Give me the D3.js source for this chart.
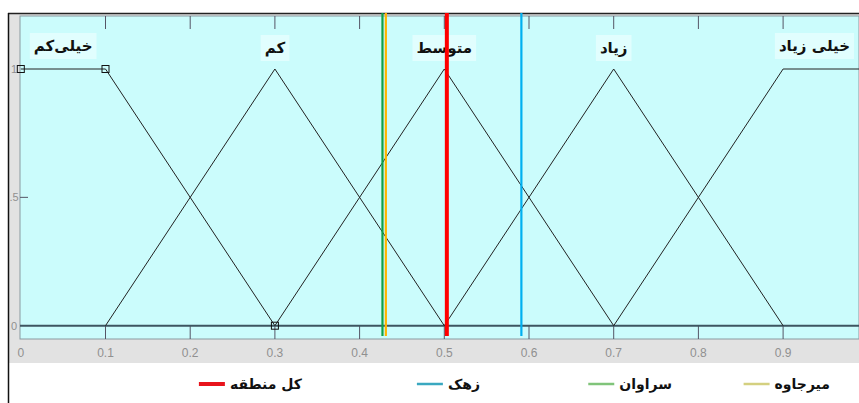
<!DOCTYPE html>
<html>
<head>
<meta charset="utf-8">
<script src="https://cdn.jsdelivr.net/npm/d3@7"></script>
<style>
  body { margin: 0; background: #fff; }
  svg { display: block; }
</style>
</head>
<body>
<div id="plot"></div>
<script>
// Parameters
const svg_w = 859;
const svg_h = 403;
const plot = {left: 20, top: 16, bottom: 339};

// membership functions (trimf / trapmf params)
const mfNames = ["خیلی‌کم", "کم", "متوسط", "زیاد", "خیلی زیاد"];
const mfParams = [
  [0, 0, 0.1, 0.3],
  [0.1, 0.3, 0.5],
  [0.3, 0.5, 0.7],
  [0.5, 0.7, 0.9],
  [0.7, 0.9, 1, 1]
];
const mfLabelX = [0.05, 0.3, 0.5, 0.7, 0.937];

// selected mf markers
const markerX = [0, 0.1, 0.3];
const markerY = [1, 1, 0];

// regions
const regions = ["کل منطقه", "زهک", "سراوان", "میرجاوه"];
const regionValues = [0.503, 0.591, 0.427, 0.431];
const lineColors = ["#ff0000", "#00b0f0", "#0fa04a", "#ffb400"];
const legendColors = ["#e8141c", "#3aa8c0", "#80c47a", "#d4d080"];

const xTicks = [0, 0.1, 0.2, 0.3, 0.4, 0.5, 0.6, 0.7, 0.8, 0.9];
const yTicks = [0, 0.5, 1];

const xScale = d3.scaleLinear().domain([0, 1]).range([20.8, 867.8]);
const yScale = d3.scaleLinear().domain([0, 1]).range([325.7, 69]);

const svg = d3.select("div#plot")
  .append("svg")
    .attr("width", svg_w)
    .attr("height", svg_h);

// grey frame
svg.append("rect")
    .attr("x", 8).attr("y", 13)
    .attr("width", svg_w - 8).attr("height", 350)
    .attr("fill", "#e2e2e2");

// cyan plot area
svg.append("rect")
    .attr("x", plot.left).attr("y", plot.top)
    .attr("width", svg_w - plot.left).attr("height", plot.bottom - plot.top)
    .attr("fill", "#cbfcfc")
    .attr("stroke", "#8a9aa0")
    .attr("stroke-width", 1);

// outer border lines
svg.append("line")
    .attr("x1", 8).attr("x2", svg_w).attr("y1", 13.5).attr("y2", 13.5)
    .attr("stroke", "#222").attr("stroke-width", 1.5);
svg.append("line")
    .attr("x1", 8.5).attr("x2", 8.5).attr("y1", 13).attr("y2", svg_h)
    .attr("stroke", "#111").attr("stroke-width", 1.5);

// tick marks (top and bottom)
const ticks = svg.append("g").attr("class", "ticks");
ticks.selectAll("line.bot")
  .data(xTicks.slice(1))
  .enter().append("line")
    .attr("class", "bot")
    .attr("x1", d => xScale(d)).attr("x2", d => xScale(d))
    .attr("y1", yScale(0)).attr("y2", plot.bottom)
    .attr("stroke", "#556").attr("stroke-width", 1);
ticks.selectAll("line.top")
  .data(xTicks.slice(1))
  .enter().append("line")
    .attr("class", "top")
    .attr("x1", d => xScale(d)).attr("x2", d => xScale(d))
    .attr("y1", plot.top).attr("y2", plot.top + 13)
    .attr("stroke", "#556").attr("stroke-width", 1);
ticks.append("line")
    .attr("x1", plot.left).attr("x2", plot.left + 8)
    .attr("y1", yScale(0.5)).attr("y2", yScale(0.5))
    .attr("stroke", "#556");

// x tick labels
svg.append("g").selectAll("text")
  .data(xTicks)
  .enter().append("text")
    .attr("x", d => xScale(d))
    .attr("y", 357)
    .attr("text-anchor", "middle")
    .style("font-family", "Liberation Sans, Arial, sans-serif")
    .style("font-size", "12px")
    .attr("fill", "#909090")
    .text(d => d === 0 ? "0" : d3.format(".1f")(d));

// y tick labels
svg.append("g").selectAll("text")
  .data(yTicks)
  .enter().append("text")
    .attr("x", 14)
    .attr("y", d => yScale(d) + 4)
    .attr("text-anchor", "middle")
    .style("font-family", "Liberation Sans, Arial, sans-serif")
    .style("font-size", "11px")
    .attr("fill", "#909090")
    .text(d => d === 0.5 ? ".5" : d);

// baseline
svg.append("line")
    .attr("x1", plot.left).attr("x2", svg_w)
    .attr("y1", yScale(0)).attr("y2", yScale(0))
    .attr("stroke", "#3d5560").attr("stroke-width", 2);

// membership function curves
function mfPoints(p) {
  if (p.length === 3) return [[p[0], 0], [p[1], 1], [p[2], 0]];
  return [[p[0], p[0] === p[1] ? 1 : 0], [p[1], 1], [p[2], 1], [p[3], p[2] === p[3] ? 1 : 0]];
}
const line = d3.line().x(d => xScale(d[0])).y(d => yScale(d[1]));
svg.append("g").selectAll("path")
  .data(mfParams)
  .enter().append("path")
    .attr("d", p => line(mfPoints(p)))
    .attr("fill", "none")
    .attr("stroke", "#222")
    .attr("stroke-width", 1);

// markers on selected mf
svg.append("g").selectAll("rect")
  .data(markerX)
  .enter().append("rect")
    .attr("x", (d, i) => xScale(d) - 3.5)
    .attr("y", (d, i) => yScale(markerY[i]) - 3.5)
    .attr("width", 7).attr("height", 7)
    .attr("fill", "none")
    .attr("stroke", "#111").attr("stroke-width", 1);

// mf labels
const labels = svg.append("g").selectAll("g")
  .data(mfNames)
  .enter().append("g");
const labelText = labels.append("text")
    .attr("x", (d, i) => xScale(mfLabelX[i]))
    .attr("y", (d, i) => i === 0 || i === 4 ? 51 : 53)
    .attr("text-anchor", "middle")
    .attr("direction", "rtl")
    .style("font-family", "DejaVu Sans, sans-serif")
    .style("font-weight", "bold")
    .style("font-size", "15px")
    .attr("fill", "#111")
    .text(d => d);
labelText.each(function() {
  const b = this.getBBox();
  d3.select(this.parentNode).insert("rect", "text")
    .attr("x", b.x - 4).attr("y", b.y - 4)
    .attr("width", b.width + 8).attr("height", b.height + 8)
    .attr("fill", "#f0ffff")
    .attr("opacity", 0.6);
});

// region value lines
svg.append("g").selectAll("line")
  .data(regionValues)
  .enter().append("line")
    .attr("x1", d => xScale(d)).attr("x2", d => xScale(d))
    .attr("y1", 13).attr("y2", 336)
    .attr("stroke", (d, i) => lineColors[i])
    .attr("stroke-width", (d, i) => i === 0 ? 4 : 2.2);

// legend
const legendTextRight = [302, 480, 672, 830];
const legend = svg.append("g").selectAll("g")
  .data(regions)
  .enter().append("g");
legend.append("text")
    .attr("x", (d, i) => legendTextRight[i])
    .attr("y", 389)
    .attr("text-anchor", "end")
    .style("font-family", "DejaVu Sans, sans-serif")
    .style("font-weight", "bold")
    .style("font-size", "14px")
    .attr("fill", "#111")
    .text(d => d)
  .each(function(d, i) {
    const b = this.getBBox();
    d3.select(this.parentNode).append("line")
      .attr("x1", b.x - 31).attr("x2", b.x - 5)
      .attr("y1", 384).attr("y2", 384)
      .attr("stroke", legendColors[i])
      .attr("stroke-width", i === 0 ? 4 : 2.5);
  });
</script>
</body>
</html>
